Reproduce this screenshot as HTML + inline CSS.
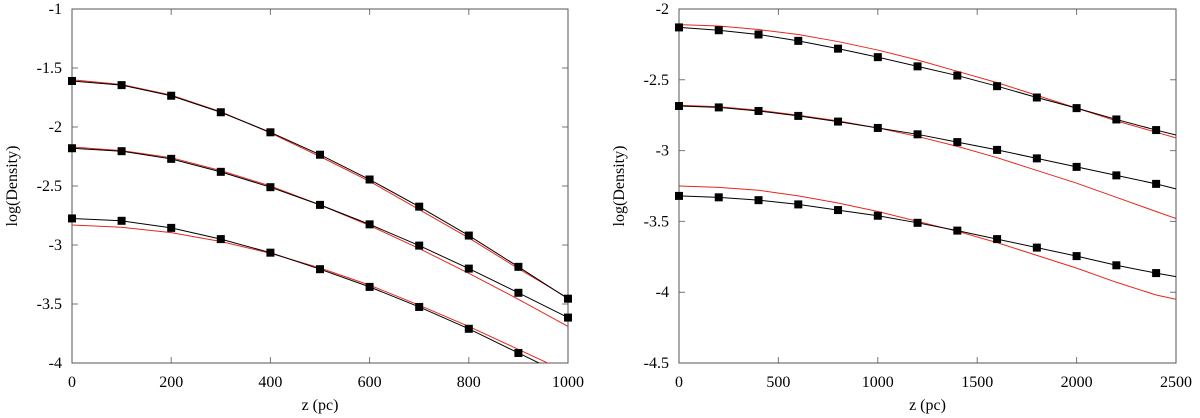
<!DOCTYPE html>
<html><head><meta charset="utf-8"><style>
body{margin:0;background:#fff}
svg{display:block;font-family:"Liberation Serif",serif}
</style></head><body>
<svg id="c" width="1200" height="418"></svg>
<script>
const leftZ=[0,100,200,300,400,500,600,700,800,900,1000];
const leftBlack1=[-1.61,-1.645,-1.735,-1.875,-2.045,-2.235,-2.445,-2.675,-2.92,-3.185,-3.455];
const leftRed1=[-1.60,-1.64,-1.73,-1.87,-2.05,-2.25,-2.46,-2.70,-2.94,-3.20,-3.45];
const leftBlack2=[-2.18,-2.205,-2.27,-2.38,-2.51,-2.66,-2.825,-3.005,-3.2,-3.405,-3.615];
const leftRed2=[-2.17,-2.2,-2.26,-2.37,-2.5,-2.66,-2.835,-3.03,-3.24,-3.46,-3.69];
const leftBlack3=[-2.775,-2.795,-2.855,-2.95,-3.065,-3.205,-3.355,-3.525,-3.71,-3.915,-4.12];
const leftRed3=[-2.83,-2.85,-2.895,-2.97,-3.07,-3.195,-3.34,-3.51,-3.69,-3.885,-4.08];
const rightZ=[0,200,400,600,800,1000,1200,1400,1600,1800,2000,2200,2400,2500];
const rightBlack1=[-2.13,-2.15,-2.18,-2.225,-2.28,-2.34,-2.405,-2.47,-2.545,-2.625,-2.70,-2.78,-2.855,-2.89];
const rightRed1=[-2.11,-2.12,-2.145,-2.18,-2.23,-2.29,-2.36,-2.44,-2.52,-2.61,-2.70,-2.79,-2.87,-2.91];
const rightBlack2=[-2.685,-2.695,-2.72,-2.755,-2.795,-2.84,-2.885,-2.94,-2.995,-3.055,-3.115,-3.175,-3.235,-3.27];
const rightRed2=[-2.68,-2.69,-2.715,-2.75,-2.79,-2.84,-2.9,-2.97,-3.05,-3.14,-3.23,-3.33,-3.43,-3.48];
const rightBlack3=[-3.32,-3.33,-3.35,-3.38,-3.42,-3.46,-3.51,-3.565,-3.625,-3.685,-3.745,-3.81,-3.865,-3.89];
const rightRed3=[-3.25,-3.26,-3.28,-3.32,-3.37,-3.43,-3.5,-3.57,-3.65,-3.74,-3.83,-3.93,-4.02,-4.05];
const leftXTicks=[0,200,400,600,800,1000];
const leftYTicks=[-1,-1.5,-2,-2.5,-3,-3.5,-4];
const rightXTicks=[0,500,1000,1500,2000,2500];
const rightYTicks=[-2,-2.5,-3,-3.5,-4,-4.5];

const svg=document.getElementById('c');
const NS='http://www.w3.org/2000/svg';
function mk(t,a,p){const e=document.createElementNS(NS,t);for(const k in a)e.setAttribute(k,a[k]);(p||svg).appendChild(e);return e;}

function panel(name,x0,x1,y0,y1,xmin,xmax,ymin,ymax,xt,yt,z,series,nMarkers){
  const g=mk('g',{});
  
  
  const sx=v=>x0+(v-xmin)/(xmax-xmin)*(x1-x0);
  const sy=v=>y1-(v-ymin)/(ymax-ymin)*(y1-y0);
  const cp=mk('clipPath',{id:name+'-clip'},g);
  mk('rect',{x:x0,y:y0,width:x1-x0,height:y1-y0},cp);
  xt.forEach(v=>{
    const X=sx(v);
    const tk=mk('path',{d:`M${X},${y1}v-6M${X},${y0}v6`,stroke:'#777','stroke-width':1},g);
    
    
    const t=mk('text',{x:X,y:y1+24,'text-anchor':'middle','font-size':16},g);
    t.textContent=v;
    
    
  });
  yt.forEach(v=>{
    const Y=sy(v);
    const tk=mk('path',{d:`M${x0},${Y}h6M${x1},${Y}h-6`,stroke:'#777','stroke-width':1},g);
    
    
    const t=mk('text',{x:x0-10,y:Y+5,'text-anchor':'end','font-size':16},g);
    t.textContent=v;
    
    
  });
  const f=mk('rect',{x:x0,y:y0,width:x1-x0,height:y1-y0,fill:'none',stroke:'#555','stroke-width':1},g);
  
  
  const pg=mk('g',{'clip-path':`url(#${name}-clip)`},g);
  series.forEach(([vals,col,mark],si)=>{
    const pts=vals.map((v,i)=>sx(z[i])+','+sy(v)).join(' ');
    const l=mk('polyline',{points:pts,fill:'none',stroke:col,'stroke-width':1},pg);
    
    
    if(mark){vals.forEach((v,i)=>{ if(i>=nMarkers||v<ymin||v>ymax)return;
      const m=mk('rect',{x:sx(z[i])-4,y:sy(v)-4,width:8,height:8,fill:'#000'},g);
      
      
    });}
  });
  const xl=mk('text',{x:(x0+x1)/2,y:410,'text-anchor':'middle','font-size':16},g);
  xl.textContent='z (pc)';
  
  
  const yl=mk('text',{x:0,y:0,'text-anchor':'middle','font-size':16,transform:`translate(${x0-55},${(y0+y1)/2}) rotate(-90)`},g);
  yl.textContent='log(Density)';
  
  
}
panel('left-panel',72,568,9,363,0,1000,-4,-1,leftXTicks,leftYTicks,leftZ,
 [[leftRed1,'#e8261c',false],[leftRed2,'#e8261c',false],[leftRed3,'#e8261c',false],
  [leftBlack1,'#000',true],[leftBlack2,'#000',true],[leftBlack3,'#000',true]],11);
panel('right-panel',679,1176,9,363,0,2500,-4.5,-2,rightXTicks,rightYTicks,rightZ,
 [[rightRed1,'#e8261c',false],[rightRed2,'#e8261c',false],[rightRed3,'#e8261c',false],
  [rightBlack1,'#000',true],[rightBlack2,'#000',true],[rightBlack3,'#000',true]],13);
</script>
</body></html>
